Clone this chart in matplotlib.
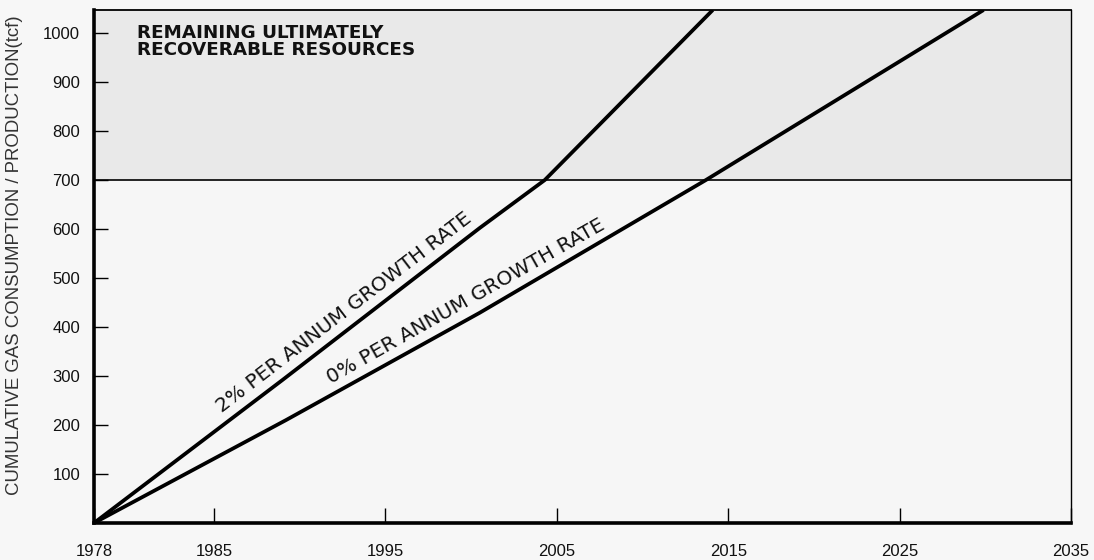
import matplotlib
matplotlib.use("Agg")
import matplotlib.pyplot as plt
import numpy as np

# ---- data ----
years_2pct = [1978, 1989.0, 2000.5, 2004.3, 2014.1]
cum_2pct = [0, 292, 602, 700, 1047]

years_0pct = [1978, 1989.2, 2000.5, 2013.7, 2029.9]
cum_0pct = [0, 210, 429, 700, 1047]

resource_limit = 700
y_top = 1047
x_ticks = [1978, 1985, 1995, 2005, 2015, 2025, 2035]
y_ticks = [100, 200, 300, 400, 500, 600, 700, 800, 900, 1000]

label_2pct = "2% PER ANNUM GROWTH RATE"
label_0pct = "0% PER ANNUM GROWTH RATE"
region_label = "REMAINING ULTIMATELY\nRECOVERABLE RESOURCES"
y_label = "CUMULATIVE GAS CONSUMPTION / PRODUCTION(tcf)"

fig = plt.figure(figsize=(10.94, 5.60), dpi=100, facecolor="#f7f7f7")
ax = fig.add_axes([94/1094, 37/560, 977/1094, 513/560])
ax.set_facecolor("#f6f6f6")

ax.set_xlim(1978, 2035)
ax.set_ylim(0, y_top)

# shaded "remaining resources" zone
ax.axhspan(resource_limit, y_top, facecolor="#e9e9e9", edgecolor="none", zorder=0)
ax.axhline(resource_limit, color="black", lw=1.2, zorder=2)

ax.plot(years_2pct, cum_2pct, color="black", lw=2.7, solid_capstyle="butt", zorder=3)
ax.plot(years_0pct, cum_0pct, color="black", lw=2.7, solid_capstyle="butt", zorder=3)

# spines
ax.spines["left"].set_linewidth(2.6)
ax.spines["bottom"].set_linewidth(2.6)
ax.spines["top"].set_linewidth(1.3)
ax.spines["right"].set_linewidth(1.0)
for s in ax.spines.values():
    s.set_color("black")

ax.set_xticks(x_ticks)
ax.set_xticklabels([str(v) for v in x_ticks])
ax.set_yticks(y_ticks)
ax.set_yticklabels([str(v) for v in y_ticks])
ax.tick_params(axis="both", direction="in", length=10, width=1.0, colors="black",
               labelsize=12, labelcolor="#111111")
ax.tick_params(axis="x", pad=15, length=11)
ax.tick_params(axis="y", pad=10)
for lab in ax.get_xticklabels() + ax.get_yticklabels():
    lab.set_family("Liberation Sans")

fig.text(0.0137, 0.545, y_label, rotation=90, ha="center", va="center",
         fontsize=13.4, family="Liberation Sans", color="#333333")

ax.text(0.044, 0.972, region_label, transform=ax.transAxes, ha="left", va="top",
        fontsize=13.2, fontweight="bold", family="DejaVu Sans", linespacing=0.92,
        color="#111111")

ax.text(1992.6, 430, label_2pct, rotation=37.5, rotation_mode="anchor",
        ha="center", va="center", fontsize=14.5, family="DejaVu Sans", color="#111111")
ax.text(1999.7, 452, label_0pct, rotation=29.5, rotation_mode="anchor",
        ha="center", va="center", fontsize=14.5, family="DejaVu Sans", color="#111111")

fig.savefig("out.png", dpi=100, facecolor=fig.get_facecolor())
